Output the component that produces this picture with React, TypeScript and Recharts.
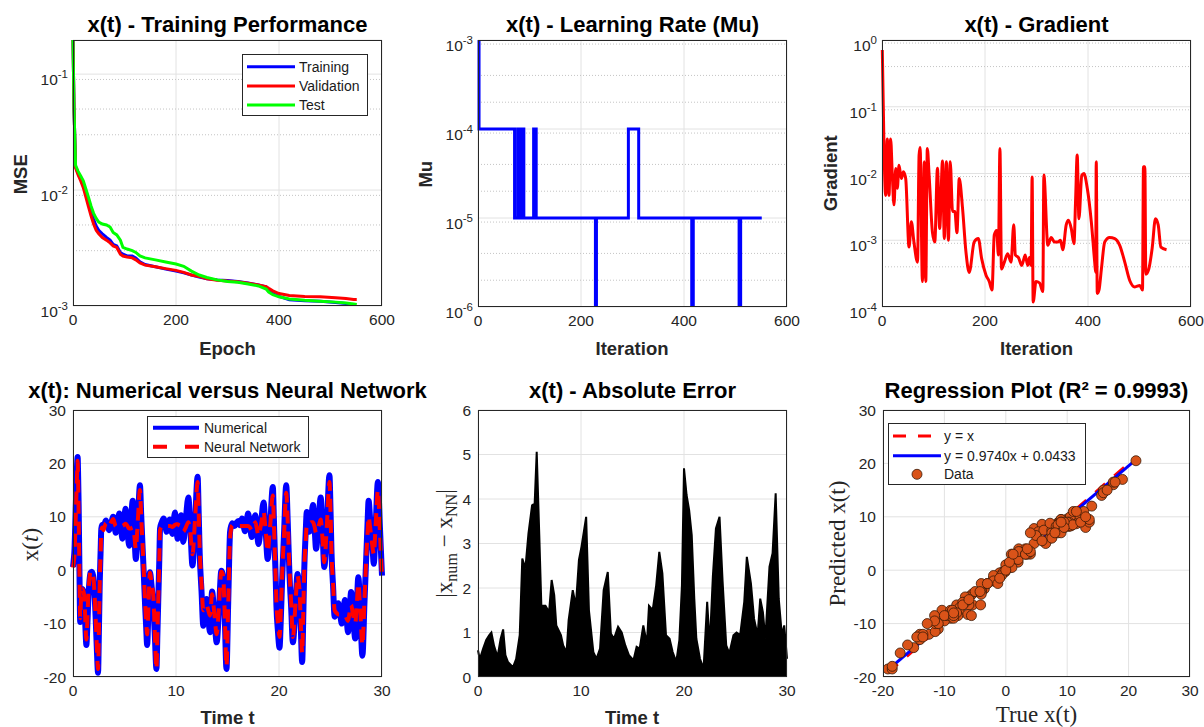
import React from 'react';
import {
  LineChart, Line, AreaChart, Area, ComposedChart, Scatter,
  XAxis, YAxis, CartesianGrid,
} from 'recharts';

const SANS = '"Liberation Sans", Arial, Helvetica, sans-serif';
const SERIF = '"Liberation Serif", "Times New Roman", serif';
const INK = '#262626';
const GRID = '#e2e2e2';
const MINOR = '#c4c4c4';
const BLUE = '#0000ff';
const RED = '#ff0000';
const GREEN = '#00ff00';
const ORANGE = '#d95319';

// ---- training performance (MSE per epoch)
const epochs = [0, 2, 5, 10, 15, 20, 25, 30, 35, 40, 45, 50, 57, 65, 72, 78, 85, 92, 97, 105, 115, 122, 130, 140,
  160, 180, 200, 215, 230, 245, 260, 280, 300, 320, 340, 360, 375, 380, 388, 400, 420, 450, 480, 510, 530, 545, 551];
const mseTrain = [0.197, 0.05, 0.0159, 0.0139, 0.0125, 0.0112, 0.0093, 0.0078, 0.0065, 0.0056, 0.0049, 0.0045, 0.0042,
  0.0039, 0.0037, 0.0034, 0.0033, 0.0029, 0.0028, 0.0027, 0.0027, 0.0026, 0.0024, 0.00228, 0.00218, 0.00208, 0.002,
  0.00193, 0.00185, 0.00178, 0.00172, 0.00168, 0.00166, 0.00163, 0.00158, 0.00152, 0.00146, 0.00137, 0.00128, 0.00121,
  0.00113, 0.00111, 0.0011, 0.00107, 0.00105, 0.001, 0.00098];
const mseVal = [0.197, 0.05, 0.0155, 0.0135, 0.012, 0.0105, 0.0087, 0.0072, 0.006, 0.0051, 0.0045, 0.0042, 0.0039,
  0.0037, 0.0035, 0.0033, 0.0032, 0.0028, 0.0027, 0.00265, 0.0026, 0.0025, 0.00235, 0.00225, 0.00218, 0.0021, 0.00203,
  0.00195, 0.00185, 0.0018, 0.00172, 0.00167, 0.00164, 0.00162, 0.00157, 0.00152, 0.00147, 0.00142, 0.00135, 0.00128,
  0.00123, 0.00121, 0.0012, 0.00118, 0.00116, 0.00114, 0.00114];
const mseTest = [0.197, 0.05, 0.0163, 0.0145, 0.0132, 0.012, 0.0102, 0.0087, 0.0073, 0.0063, 0.0057, 0.0053, 0.0051,
  0.005, 0.0048, 0.0043, 0.0041, 0.0037, 0.0032, 0.0031, 0.003, 0.0029, 0.0027, 0.0026, 0.0025, 0.0024, 0.0023,
  0.0022, 0.002, 0.00185, 0.00176, 0.00168, 0.00163, 0.0016, 0.00155, 0.00149, 0.0014, 0.00132, 0.00125, 0.0012,
  0.00115, 0.00112, 0.0011, 0.00108, 0.00106, 0.00104, 0.00103];

// ---- learning rate Mu (value holds until next iteration listed)
const muIter = [0, 2, 71, 77, 79, 81, 84, 86, 89, 108, 113, 228, 230, 292, 312, 415, 418, 507, 510, 551];
const muVal = [1e-3, 1e-4, 1e-5, 1e-4, 1e-5, 1e-4, 1e-5, 1e-4, 1e-5, 1e-4, 1e-5, 1e-6, 1e-5, 1e-4, 1e-5, 1e-6, 1e-5,
  1e-6, 1e-5, 1e-5];

// ---- gradient
const gradIter = [0.6, 3.8, 7, 10.3, 13.6, 16.8, 20, 23.3, 26.6, 29.8,
  33, 37.6, 41.5, 46, 52.5, 57, 62, 69, 72, 74,
  78.5, 82, 85, 88, 91.5, 98, 102.5, 107.7, 112, 117.5,
  121, 125, 129, 132.5, 137, 141.5, 145.5, 150, 156.4, 163,
  169.4, 179, 187, 193.5, 202, 208.4, 213.6, 218, 222.6, 226,
  229, 232, 237.6, 244, 250.6, 255.8, 259, 265, 271.4, 278,
  283, 286.3, 289.5, 291.5, 293.5, 299, 305.8, 312.3, 314.3, 322,
  328.5, 335, 341.5, 346.7, 351, 357.7, 362, 367.5, 372.7, 376,
  379, 382.4, 388, 392, 398.6, 406.4, 413, 414.9, 416, 418,
  421.4, 426, 432.5, 442, 452, 461.6, 471.4, 481, 491, 500.6,
  505.8, 507.7, 510.4, 512.3, 518, 524.6, 531, 536.3, 541.5, 552.5];
const gradVal = [0.71, 0.0266, 0.0047, 0.033, 0.0047, 0.033, 0.0094, 0.0034, 0.0119, 0.006,
  0.0133, 0.0084, 0.0106, 0.0084, 0.00079, 0.0019, 0.00094, 0.00047, 0.0188, 0.0245,
  0.00024, 0.015, 0.00024, 0.0237, 0.0094, 0.0013, 0.00094, 0.012, 0.0015, 0.0154,
  0.00106, 0.015, 0.001, 0.015, 0.0027, 0.0027, 0.0013, 0.0084, 0.003, 0.00067,
  0.00033, 0.00094, 0.00106, 0.00053, 0.0003, 0.00024, 0.00018, 0.0012, 0.0014, 0.0006,
  0.0237, 0.00037, 0.00047, 0.00063, 0.00047, 0.0017, 0.0006, 0.00055, 0.00042, 0.0006,
  0.00042, 0.00055, 0.00042, 0.0089, 0.000119, 0.00024, 0.00023, 0.00017, 0.0095, 0.00084,
  0.0011, 0.00094, 0.00094, 0.001, 0.00072, 0.0017, 0.002, 0.0015, 0.00089, 0.0042,
  0.019, 0.0021, 0.0094, 0.01, 0.006, 0.0019, 0.00047, 0.00033, 0.015, 0.00016,
  0.00018, 0.00037, 0.00094, 0.0011, 0.00106, 0.00084, 0.00047, 0.00025, 0.0002, 0.00021,
  0.00018, 0.0126, 0.0126, 0.00031, 0.00037, 0.00076, 0.0021, 0.0017, 0.00079, 0.00072];

// ---- x(t): numerical solution vs neural network
const tPts = [0, 0.075, 0.15, 0.22, 0.3, 0.38, 0.45, 0.5, 0.55, 0.62,
  0.7, 0.8, 0.9, 1.0, 1.1, 1.2, 1.3, 1.4, 1.5, 1.6,
  1.7, 1.82, 1.95, 2.08, 2.2, 2.32, 2.43, 2.52, 2.6, 2.68,
  2.75, 2.85, 2.95, 3.08, 3.2, 3.35, 3.5, 3.7, 3.9, 4.03,
  4.15, 4.32, 4.5, 4.65, 4.8, 4.95, 5.1, 5.28, 5.45, 5.62,
  5.8, 5.95, 6.1, 6.3, 6.5, 6.62, 6.75, 6.88, 7.0, 7.1,
  7.2, 7.33, 7.47, 7.63, 7.8, 7.95, 8.1, 8.2, 8.3, 8.38,
  8.45, 8.62, 8.8, 8.95, 9.1, 9.25, 9.4, 9.65, 9.9, 10.03,
  10.15, 10.32, 10.5, 10.6, 10.7, 10.95, 11.2, 11.4, 11.6, 11.85,
  12.1, 12.2, 12.3, 12.48, 12.65, 12.8, 12.97, 13.13, 13.3, 13.4,
  13.5, 13.72, 13.95, 14.18, 14.4, 14.5, 14.6, 14.75, 14.9, 15.07,
  15.25, 15.36, 15.47, 15.58, 15.7, 15.88, 16.05, 16.22, 16.4, 16.55,
  16.7, 16.85, 17.0, 17.18, 17.35, 17.52, 17.7, 17.85, 18.0, 18.25,
  18.5, 18.7, 18.9, 19.15, 19.4, 19.5, 19.6, 19.68, 19.75, 19.9,
  20.05, 20.18, 20.3, 20.5, 20.7, 20.85, 21.0, 21.18, 21.35, 21.58,
  21.8, 21.9, 22.0, 22.12, 22.25, 22.35, 22.45, 22.58, 22.7, 22.82,
  22.95, 23.12, 23.3, 23.45, 23.6, 23.82, 24.05, 24.22, 24.4, 24.65,
  24.9, 25.0, 25.1, 25.25, 25.4, 25.58, 25.75, 25.92, 26.1, 26.25,
  26.4, 26.55, 26.7, 26.85, 27.0, 27.2, 27.4, 27.55, 27.7, 27.9,
  28.1, 28.3, 28.5, 28.6, 28.7, 28.85, 29.0, 29.1, 29.2, 29.4,
  29.6, 29.8, 30.0];
const xNum = [0.6, 2, 4, 8.5, 14, 19, 21.2, 17.5, 12, 1,
  -9.7, -5.5, -3.5, -4, -6, -10.5, -14, -10, -5, -2,
  -0.5, -0.3, -1, -4, -9, -15, -19.2, -11, -2, 3.5,
  7.8, 8.5, 8.2, 8.8, 9.3, 8.4, 7.5, 8.7, 10, 8.5,
  7.0, 8.8, 10.6, 8.2, 5.9, 8.7, 11.5, 8, 4.6, 8.8,
  13, 7.5, 2.1, 9, 15.9, 10.5, 4.6, -1, -6.6, -10.5,
  -14, -7, -0.4, -3, -6.6, -12.5, -18.5, -11.5, -4, 2,
  7.8, 9, 9.7, 8.5, 7.2, 8.3, 9.5, 6.8, 10.8, 8.5,
  5.9, 8.2, 10.3, 8, 5.3, 9.5, 13.6, 7.5, 0.9, 9,
  17.5, 11, 3.2, -4, -10.4, -8, -5.4, -8.5, -11.6, -8,
  -4, -8.5, -13.5, -7, -0.1, -0.5, -1.6, -10, -18.5, -6,
  7.2, 8.3, 8.8, 8.4, 8.3, 8.9, 9.2, 8.4, 9.7, 8.5,
  7.3, 9, 10.6, 8.5, 6.2, 8.3, 10.3, 7.8, 4.9, 8.5,
  12.7, 7.5, 2.1, 8.5, 15.6, 10, 3.2, -1.5, -6.6, -11.5,
  -14.5, -9, -2, 7.5, 15.9, 9, 0, -7, -13.5, -7.5,
  -0.7, -2, -4.2, -11, -17.2, -9.5, 0, 6.5, 10.9, 9,
  7.2, 9.5, 12.2, 8.2, 4.0, 8.5, 13.6, 7.5, 0.6, 8.5,
  17.8, 11.5, 3.2, -3, -8.7, -7.5, -6.2, -8, -10, -7.8,
  -5.6, -8.5, -11.6, -8, -4.1, -8.5, -12.8, -7, -1.3, -8.5,
  -16, -6, 4.0, 9, 13, 9.5, 5.9, 3.5, 1.2, 9,
  16.5, 8, -1];
const xNN = [0.5, 1.5, 3, 7, 12, 17, 20.5, 16, 10, 0.5,
  -9, -4.5, -3.5, -3.8, -5, -9.5, -13, -9, -4, -1.5,
  -0.3, -0.3, -1, -4, -9, -14.5, -18.5, -11, -2, 3,
  7.5, 8, 7.5, 8.2, 8.8, 8.5, 8.2, 9, 9.6, 8.9,
  8.2, 8.3, 8.5, 8.4, 8.3, 8.5, 8.7, 8.3, 7.8, 7.8,
  8, 6.5, 4, 9.5, 15, 10, 5, -0.5, -6, -9.5,
  -12, -6.5, -0.5, -2.5, -5, -12, -18.5, -11.5, -4, 2,
  7.5, 8.2, 8.4, 8.4, 8.3, 8.3, 8.3, 8.1, 8.5, 8.6,
  8.6, 8.4, 8.2, 7.8, 7.2, 8, 9, 7, 3, 9.5,
  16.5, 11, 4, -2.5, -7.5, -7, -6.5, -7.5, -8.5, -6.5,
  -4.5, -8, -12, -6.5, -0.3, -0.5, -1.5, -9.5, -18, -6.5,
  6, 7.8, 8.4, 8.3, 8.3, 8.3, 8.3, 8.3, 8.3, 8.3,
  8.3, 8.3, 8.3, 8, 7.5, 8.2, 9, 7.8, 6.5, 8.5,
  11, 7.5, 3.5, 8.5, 14, 9, 3, -1.5, -6, -10,
  -12.5, -7.5, -1, 7, 14.5, 9, 1, -6, -12.5, -7,
  -1, -2, -4, -10, -15.5, -8.5, 0, 5, 8.5, 8.8,
  8.8, 9, 9, 8.2, 7, 8, 9.5, 6, 1.5, 8.5,
  16.5, 11, 3, -2.5, -7.5, -8, -8.3, -8.3, -8.5, -8.5,
  -8.5, -9, -9.5, -8, -6.5, -8.5, -10, -6.5, -2.5, -8,
  -14, -5.5, 3.5, 7, 10, 8, 5.5, 4, 3, 9,
  15, 7, -1.5];

// ---- absolute error envelope
const errT = [0, 0.17, 0.5, 0.8, 1.1, 1.3, 1.56, 1.9, 2.2, 2.44,
  2.66, 2.9, 3.4, 3.7, 4.05, 4.3, 4.6, 4.9, 5.25, 5.5,
  5.7, 5.95, 6.15, 6.55, 6.9, 7.15, 7.4, 7.6, 8.05, 8.27,
  8.6, 8.8, 9.2, 9.5, 9.8, 10.05, 10.5, 10.77, 11.2, 11.5,
  11.85, 12.2, 12.6, 12.9, 13.2, 13.6, 13.95, 14.3, 14.65, 15.1,
  15.4, 15.7, 16.05, 16.4, 16.6, 16.96, 17.3, 17.6, 17.9, 18.25,
  18.6, 18.9, 19.25, 19.55, 19.8, 20.0, 20.25, 20.5, 20.75, 21.0,
  21.2, 21.55, 21.9, 22.25, 22.5, 22.8, 23.1, 23.45, 23.75, 24.1,
  24.4, 24.8, 25.1, 25.45, 25.85, 26.1, 26.5, 26.8, 27.15, 27.4,
  27.66, 27.9, 28.3, 28.6, 28.9, 29.2, 29.5, 29.73, 30.0];
const errV = [0.6, 0.4, 0.64, 0.83, 0.94, 1.0, 0.7, 0.45, 0.86, 1.07,
  0.49, 0.34, 0.22, 0.4, 0.94, 2.66, 2.44, 3.23, 3.86, 3.9,
  5.06, 3.19, 1.6, 1.6, 1.46, 2.18, 1.84, 1.16, 0.94, 0.71,
  0.56, 1.28, 1.95, 1.6, 2.63, 2.93, 3.6, 1.5, 0.56, 0.41,
  0.64, 1.95, 2.36, 0.98, 0.86, 1.13, 1.0, 0.71, 0.49, 0.38,
  0.68, 0.64, 1.16, 0.75, 1.6, 1.5, 2.06, 2.81, 2.33, 0.94,
  0.86, 0.56, 0.34, 0.83, 2.06, 4.69, 4.09, 3.75, 3.19, 1.76,
  0.86, 0.41, 0.19, 1.69, 0.71, 2.25, 3.34, 3.6, 2.14, 0.71,
  0.53, 0.94, 1.0, 0.94, 1.69, 2.7, 2.1, 1.31, 0.94, 1.76,
  1.46, 0.86, 2.48, 2.78, 4.13, 1.76, 0.94, 1.16, 0.41];

// ---- regression fit (from the legend)
const FIT_SLOPE = 0.974;
const FIT_ICPT = 0.0433;

const perfRows = epochs.map((e, i) => ({ epoch: e, train: mseTrain[i], val: mseVal[i], test: mseTest[i] }));
const muRows = muIter.map((it, i) => ({ it, mu: muVal[i] }));
const gradRows = gradIter.map((it, i) => ({ it, g: gradVal[i] }));
const xRows = tPts.map((t, i) => ({ t, num: xNum[i], nn: xNN[i] }));
const errRows = errT.map((t, i) => ({ t, e: errV[i] }));
const scatterRows = xNum.map((v, i) => ({ x: v, y: xNN[i] }));
const lo = Math.min(...xNum);
const hi = Math.max(...xNum);
const identRows = [{ x: lo, y: lo }, { x: hi, y: hi }];
const fitRows = [{ x: lo, y: FIT_SLOPE * lo + FIT_ICPT }, { x: hi, y: FIT_SLOPE * hi + FIT_ICPT }];

function minorLog(e0: number, e1: number, top: number) {
  const out: number[] = [];
  for (let e = e0; e < e1; e++) for (let k = 2; k <= 9; k++) { const v = k * Math.pow(10, e); if (v < top) out.push(v); }
  return out;
}

type Box = { x: number; y: number; w: number; h: number };
const PAD_L = 70, PAD_T = 12, PAD_R = 14, PAD_B = 40;
const B1: Box = { x: 73, y: 40, w: 309, h: 266 };
const B2: Box = { x: 478, y: 40, w: 309, h: 267 };
const B3: Box = { x: 882, y: 40, w: 309, h: 267 };
const B4: Box = { x: 73, y: 410, w: 309, h: 267 };
const B5: Box = { x: 478, y: 410, w: 309, h: 267 };
const B6: Box = { x: 883, y: 410, w: 307, h: 267 };

const tickStyle = { fill: INK, fontSize: 15.5, fontFamily: SANS };
const margin = { top: PAD_T, right: PAD_R, bottom: 0, left: 0 };
const dims = (b: Box) => ({ width: b.w + PAD_L + PAD_R, height: b.h + PAD_T + PAD_B });

function LogTick(props: any) {
  const { x, y, payload } = props;
  const exp = Math.round(Math.log10(payload.value));
  return (
    <text x={x + 1} y={y + 11} textAnchor="end" fill={INK} fontSize={15.5} fontFamily={SANS}>
      10<tspan dy={-7} fontSize={11.5}>{exp}</tspan>
    </text>
  );
}

function Dot(p: any) {
  return <circle cx={p.cx} cy={p.cy} r={5} fill={ORANGE} stroke="#3a1a08" strokeWidth={0.8} />;
}

function Frame({ box, children }: { box: Box; children: React.ReactNode }) {
  return (
    <>
      <div style={{ position: 'absolute', left: box.x - PAD_L, top: box.y - PAD_T }}>{children}</div>
      <div style={{ position: 'absolute', left: box.x, top: box.y, width: box.w, height: box.h,
        border: `1px solid ${INK}`, boxSizing: 'border-box', pointerEvents: 'none' }} />
    </>
  );
}

function Title({ box, top, children }: { box: Box; top: number; children: React.ReactNode }) {
  return (
    <div style={{ position: 'absolute', left: box.x + box.w / 2 - 300, width: 600, top, textAlign: 'center',
      fontFamily: SANS, fontWeight: 'bold', fontSize: 22, lineHeight: '14px', color: '#000', whiteSpace: 'nowrap' }}>
      {children}
    </div>
  );
}

function XLabel({ cx, top, serif, children }: { cx: number; top: number; serif?: boolean; children: React.ReactNode }) {
  const size = serif ? 23 : 18.5;
  return (
    <div style={{ position: 'absolute', left: cx - 200, width: 400, top, textAlign: 'center', color: INK,
      fontFamily: serif ? SERIF : SANS, fontWeight: serif ? 'normal' : 'bold', fontSize: size,
      lineHeight: `${size}px`, whiteSpace: 'nowrap' }}>
      {children}
    </div>
  );
}

function YLabel({ cx, cy, serif, children }: { cx: number; cy: number; serif?: boolean; children: React.ReactNode }) {
  const size = serif ? 23 : 18.5;
  return (
    <div style={{ position: 'absolute', left: cx - 150, top: cy - size / 2, width: 300, height: size,
      lineHeight: `${size}px`, textAlign: 'center', transform: 'rotate(-90deg)', color: INK,
      fontFamily: serif ? SERIF : SANS, fontWeight: serif ? 'normal' : 'bold', fontSize: size, whiteSpace: 'nowrap' }}>
      {children}
    </div>
  );
}

type LegItem = { label: string; color: string; width?: number; dash?: string; dot?: boolean };
function LegendBox({ left, top, width, height, rowY, lineX, textX, items }: {
  left: number; top: number; width: number; height: number; rowY: number[]; lineX: [number, number];
  textX: number; items: LegItem[];
}) {
  return (
    <div style={{ position: 'absolute', left, top, width, height, border: `1px solid ${INK}`,
      background: '#fff', boxSizing: 'border-box' }}>
      <svg width={width} height={height} style={{ position: 'absolute', left: -1, top: -1 }}>
        {items.map((it, i) => (
          <g key={it.label}>
            {it.dot
              ? <circle cx={(lineX[0] + lineX[1]) / 2} cy={rowY[i]} r={5} fill={ORANGE} stroke="#3a1a08" strokeWidth={0.8} />
              : <line x1={lineX[0]} x2={lineX[1]} y1={rowY[i]} y2={rowY[i]} stroke={it.color}
                  strokeWidth={it.width} strokeDasharray={it.dash} />}
            <text x={textX} y={rowY[i]} dy="0.36em" fontSize={14} fontFamily={SANS} fill="#1a1a1a">{it.label}</text>
          </g>
        ))}
      </svg>
    </div>
  );
}

export default function App() {
  return (
    <div style={{ position: 'absolute', left: 0, top: 0, width: 1204, height: 727, background: '#fff',
      overflow: 'hidden', fontFamily: SANS }}>
      {/* 1: training performance */}
      <Frame box={B1}>
        <LineChart {...dims(B1)} data={perfRows} margin={margin}>
          <CartesianGrid stroke={GRID} />
          <CartesianGrid stroke={MINOR} strokeDasharray="1 2" vertical={false}
            horizontalValues={minorLog(-3, 0, 0.197)} />
          <XAxis type="number" dataKey="epoch" domain={[0, 600]} ticks={[0, 200, 400, 600]} height={PAD_B}
            tickLine={false} axisLine={false} tick={tickStyle} />
          <YAxis type="number" scale="log" domain={[1e-3, 0.197]} allowDataOverflow ticks={[1e-3, 1e-2, 1e-1]}
            width={PAD_L} tickLine={false} axisLine={false} tickMargin={0} tick={<LogTick />} />
          <Line type="linear" dataKey="train" stroke={BLUE} strokeWidth={3} dot={false} activeDot={false} isAnimationActive={false} />
          <Line type="linear" dataKey="val" stroke={RED} strokeWidth={3} dot={false} activeDot={false} isAnimationActive={false} />
          <Line type="linear" dataKey="test" stroke={GREEN} strokeWidth={3} dot={false} activeDot={false} isAnimationActive={false} />
        </LineChart>
      </Frame>

      {/* 2: learning rate */}
      <Frame box={B2}>
        <LineChart {...dims(B2)} data={muRows} margin={margin}>
          <CartesianGrid stroke={GRID} />
          <CartesianGrid stroke={MINOR} strokeDasharray="1 2" vertical={false}
            horizontalValues={minorLog(-6, -3, 1e-3)} />
          <XAxis type="number" dataKey="it" domain={[0, 600]} ticks={[0, 200, 400, 600]} height={PAD_B}
            tickLine={false} axisLine={false} tick={tickStyle} />
          <YAxis type="number" scale="log" domain={[1e-6, 1e-3]} allowDataOverflow ticks={[1e-6, 1e-5, 1e-4, 1e-3]}
            width={PAD_L} tickLine={false} axisLine={false} tickMargin={0} tick={<LogTick />} />
          <Line type="stepAfter" dataKey="mu" stroke={BLUE} strokeWidth={3} dot={false} activeDot={false} isAnimationActive={false} />
        </LineChart>
      </Frame>

      {/* 3: gradient */}
      <Frame box={B3}>
        <LineChart {...dims(B3)} data={gradRows} margin={margin}>
          <CartesianGrid stroke={GRID} />
          <CartesianGrid stroke={MINOR} strokeDasharray="1 2" vertical={false}
            horizontalValues={minorLog(-4, 0, 1)} />
          <XAxis type="number" dataKey="it" domain={[0, 600]} ticks={[0, 200, 400, 600]} height={PAD_B}
            tickLine={false} axisLine={false} tick={tickStyle} />
          <YAxis type="number" scale="log" domain={[1e-4, 1]} allowDataOverflow ticks={[1e-4, 1e-3, 1e-2, 1e-1, 1]}
            width={PAD_L} tickLine={false} axisLine={false} tickMargin={0} tick={<LogTick />} />
          <Line type="monotone" dataKey="g" stroke={RED} strokeWidth={3} dot={false} activeDot={false} isAnimationActive={false} />
        </LineChart>
      </Frame>

      {/* 4: numerical vs neural network */}
      <Frame box={B4}>
        <LineChart {...dims(B4)} data={xRows} margin={margin}>
          <CartesianGrid stroke={GRID} />
          <XAxis type="number" dataKey="t" domain={[0, 30]} ticks={[0, 10, 20, 30]} height={PAD_B}
            tickLine={false} axisLine={false} tick={tickStyle} />
          <YAxis type="number" domain={[-20, 30]} allowDataOverflow ticks={[-20, -10, 0, 10, 20, 30]}
            width={PAD_L} tickLine={false} axisLine={false} tickMargin={1} tick={tickStyle} />
          <Line type="monotone" dataKey="num" stroke={BLUE} strokeWidth={6} dot={false} activeDot={false} isAnimationActive={false} />
          <Line type="monotone" dataKey="nn" stroke={RED} strokeWidth={4} strokeDasharray="13 8" dot={false} activeDot={false} isAnimationActive={false} />
        </LineChart>
      </Frame>

      {/* 5: absolute error */}
      <Frame box={B5}>
        <AreaChart {...dims(B5)} data={errRows} margin={margin}>
          <CartesianGrid stroke={GRID} />
          <XAxis type="number" dataKey="t" domain={[0, 30]} ticks={[0, 10, 20, 30]} height={PAD_B}
            tickLine={false} axisLine={false} tick={tickStyle} />
          <YAxis type="number" domain={[0, 6]} allowDataOverflow ticks={[0, 1, 2, 3, 4, 5, 6]}
            width={PAD_L} tickLine={false} axisLine={false} tickMargin={1} tick={tickStyle} />
          <Area type="linear" dataKey="e" baseValue={0} stroke="#000" strokeWidth={2} fill="#000" fillOpacity={1}
            dot={false} activeDot={false} isAnimationActive={false} />
        </AreaChart>
      </Frame>

      {/* 6: regression */}
      <Frame box={B6}>
        <ComposedChart {...dims(B6)} margin={margin}>
          <CartesianGrid stroke={GRID} />
          <XAxis type="number" dataKey="x" domain={[-20, 30]} ticks={[-20, -10, 0, 10, 20, 30]} height={PAD_B}
            tickLine={false} axisLine={false} tick={tickStyle} allowDataOverflow />
          <YAxis type="number" dataKey="y" domain={[-20, 30]} ticks={[-20, -10, 0, 10, 20, 30]}
            width={PAD_L} tickLine={false} axisLine={false} tickMargin={1} tick={tickStyle} allowDataOverflow />
          <Line data={identRows} type="linear" dataKey="y" stroke={RED} strokeWidth={3} strokeDasharray="13 12"
            dot={false} activeDot={false} isAnimationActive={false} />
          <Line data={fitRows} type="linear" dataKey="y" stroke={BLUE} strokeWidth={3}
            dot={false} activeDot={false} isAnimationActive={false} />
          <Scatter data={scatterRows} dataKey="y" shape={<Dot />} isAnimationActive={false} />
        </ComposedChart>
      </Frame>

      {/* titles */}
      <Title box={B1} top={17.7}>x(t) - Training Performance</Title>
      <Title box={B2} top={17.7}>x(t) - Learning Rate (Mu)</Title>
      <Title box={B3} top={17.7}>x(t) - Gradient</Title>
      <Title box={B4} top={383.5}>x(t): Numerical versus Neural Network</Title>
      <Title box={B5} top={383.5}>x(t) - Absolute Error</Title>
      <Title box={B6} top={383.5}>Regression Plot (R² = 0.9993)</Title>

      {/* axis labels */}
      <XLabel cx={227.5} top={340.3}>Epoch</XLabel>
      <XLabel cx={632} top={340.3}>Iteration</XLabel>
      <XLabel cx={1036.5} top={340.3}>Iteration</XLabel>
      <XLabel cx={227.5} top={709.3}>Time t</XLabel>
      <XLabel cx={632} top={709.3}>Time t</XLabel>
      <XLabel cx={1036.5} top={702.5} serif>True x(t)</XLabel>
      <YLabel cx={21} cy={174}>MSE</YLabel>
      <YLabel cx={425.5} cy={174}>Mu</YLabel>
      <YLabel cx={831} cy={173}>Gradient</YLabel>
      <YLabel cx={29.5} cy={544} serif>x(<i>t</i>)</YLabel>
      <YLabel cx={444} cy={543} serif>
        |x<sub style={{ fontSize: '0.7em' }}>num</sub> − x<sub style={{ fontSize: '0.7em' }}>NN</sub>|
      </YLabel>
      <YLabel cx={837} cy={543.5} serif>Predicted x(t)</YLabel>

      {/* legends */}
      <LegendBox left={242} top={54} width={126} height={62} rowY={[12.7, 32, 51]} lineX={[5, 53]} textX={57}
        items={[
          { label: 'Training', color: BLUE, width: 3 },
          { label: 'Validation', color: RED, width: 3 },
          { label: 'Test', color: GREEN, width: 3 },
        ]} />
      <LegendBox left={147} top={416} width={162} height={42} rowY={[11.7, 30.7]} lineX={[6, 52]} textX={57}
        items={[
          { label: 'Numerical', color: BLUE, width: 4 },
          { label: 'Neural Network', color: RED, width: 4, dash: '14 18' },
        ]} />
      <LegendBox left={888} top={423} width={198} height={62} rowY={[13, 32.7, 51.3]} lineX={[5, 53]} textX={56}
        items={[
          { label: 'y = x', color: RED, width: 3, dash: '13 12' },
          { label: 'y = 0.9740x + 0.0433', color: BLUE, width: 3 },
          { label: 'Data', color: ORANGE, dot: true },
        ]} />
    </div>
  );
}
